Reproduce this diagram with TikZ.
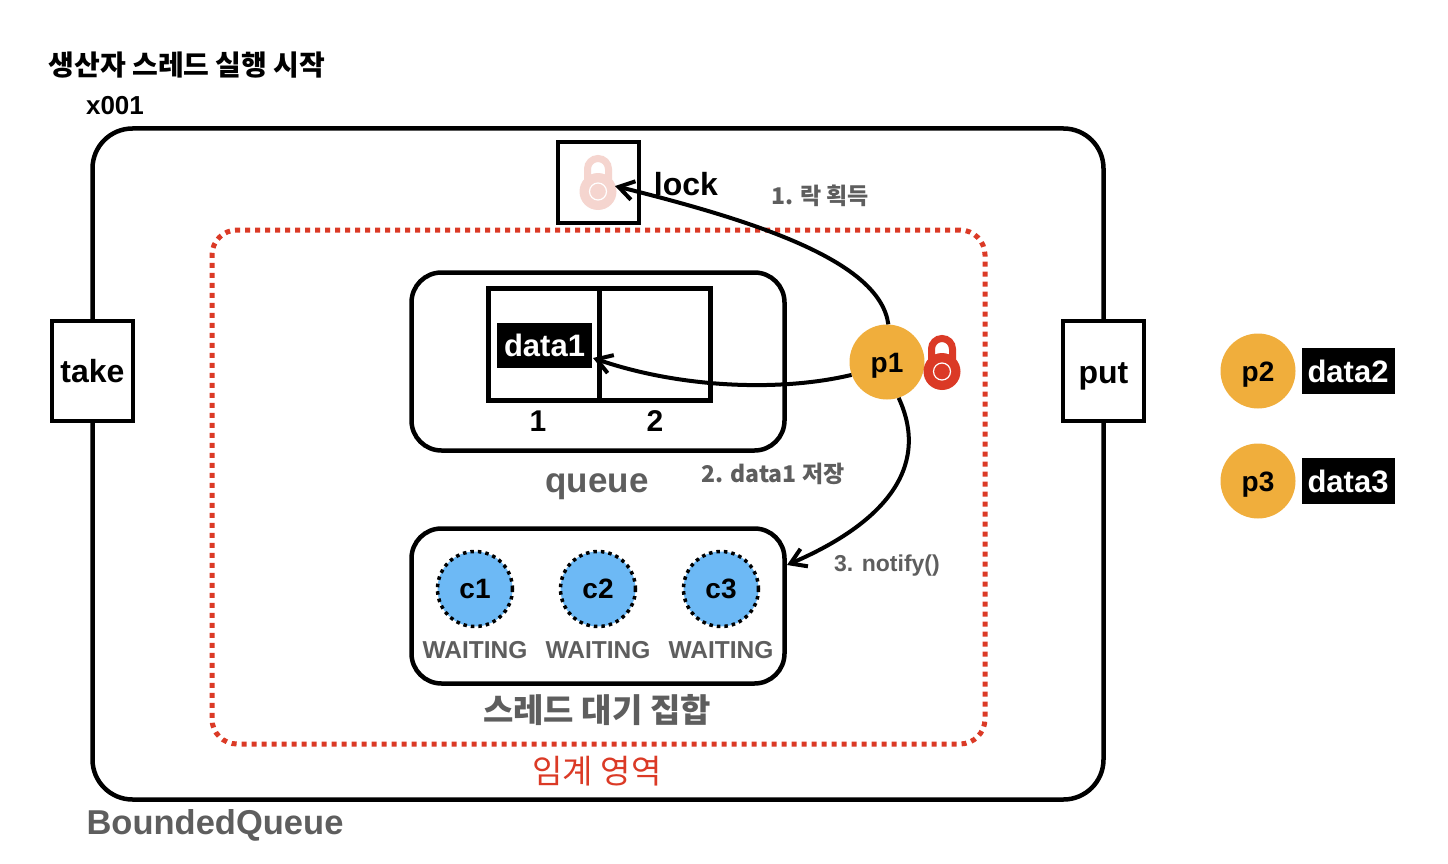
\documentclass[tikz,border=0pt]{standalone}
\usepackage{fontspec}
\setmainfont{Liberation Sans}
\newfontfamily\krfont{Noto Sans CJK KR}
\usetikzlibrary{arrows.meta}

\definecolor{redzone}{HTML}{DB3A26}
\definecolor{palered}{HTML}{F5D5CF}
\definecolor{grayfont}{HTML}{5E5E5E}
\definecolor{prodfill}{HTML}{F0AE3C}
\definecolor{consfill}{HTML}{6DB9F5}

\newcommand{\fsz}[1]{\fontsize{#1}{#1}\selectfont\bfseries}

\tikzset{
  box/.style={draw=black, line width=4.5pt, fill=white, inner sep=0pt},
  roundbox/.style={box, rounded corners=30pt},
  lbl/.style={inner sep=0pt, font=\fsz{30}},
  graylbl/.style={inner sep=0pt, text=grayfont},
  thread/.style={circle, fill=prodfill, minimum size=75pt, inner sep=0pt, font=\fsz{28}, text height=22pt, text depth=2pt},
  waiter/.style={circle, fill=consfill, draw=black, line width=3.5pt, dash pattern=on 3.5pt off 4pt, minimum size=75pt, inner sep=0pt, font=\fsz{28}},
  datablock/.style={fill=black, text=white, minimum width=93pt, minimum height=46pt, inner sep=0pt, font=\fsz{31}},
  flow/.style={-{Straight Barb[length=15pt,width=19pt,line width=4pt]}, line width=4pt},
  lockicon/.pic={
    \draw[line width=7pt, pic actions] (-10.5,-8) -- (-10.5,-22.5) arc (180:360:10.5) -- (10.5,-8);
    \fill[pic actions] (0,0) circle (18.5);
    \draw[white, line width=1.2pt] (0,0) circle (8.5);
  },
}

\begin{document}
\begin{tikzpicture}[x=1pt,y=-1pt]
  \useasboundingbox (0,0) rectangle (1448,864);

  \node[inner sep=0pt] (title) at (187,65) {\krfont\fsz{28}생산자 스레드 실행 시작};
  \node[lbl] (addr) at (115,106) {\fsz{26}x001};

  % outer object
  \node[roundbox, rounded corners=40pt, minimum width=1011pt, minimum height=671pt] (bounded) at (598,464) {};
  \node[graylbl] (boundedname) at (215,825) {\fsz{34.5}BoundedQueue};
  \node[box, minimum width=81pt, minimum height=100pt, font=\fsz{32}] (takebox) at (92.5,371) {take};
  \node[box, minimum width=81pt, minimum height=100pt, font=\fsz{32}, text height=24pt, text depth=0pt] (putbox) at (1103.5,371) {put};

  % critical section
  \node[draw=redzone, line width=5pt, dash pattern=on 5pt off 5pt, rounded corners=25pt, minimum width=773pt, minimum height=514pt, inner sep=0pt] (critical) at (598.5,487) {};
  \node[inner sep=0pt, text=redzone] (criticalname) at (597,771) {\krfont\fontsize{33}{33}\selectfont 임계 영역};

  % lock
  \node[box, minimum width=81pt, minimum height=81pt] (lockbox) at (598.5,182.5) {};
  \pic[palered] at (598,191.5) {lockicon};
  \coordinate (lockspot) at (615,186);
  \node[lbl] (lockname) at (686,184) {\fsz{32}lock};

  % queue
  \node[roundbox, minimum width=373pt, minimum height=178pt] (queuebox) at (598,361.5) {};
  \node[box, minimum width=111pt, minimum height=112pt] (slota) at (544,344.5) {};
  \node[box, minimum width=111pt, minimum height=112pt] (slotb) at (655,344.5) {};
  \node[fill=black, text=white, minimum width=95pt, minimum height=45pt, inner sep=0pt, font=\fsz{31}, text height=23pt, text depth=1pt] (dataa) at (544.5,345) {data1};
  \coordinate (dataspot) at (593,358);
  \node[lbl] (numa) at (538,421) {1};
  \node[lbl] (numb) at (655,421) {2};
  \node[graylbl] (queuename) at (597,487) {\fsz{35}queue};

  % wait set
  \node[roundbox, minimum width=373pt, minimum height=155pt] (waitbox) at (598,606) {};
  \foreach \name/\xpos in {c1/475,c2/598,c3/721}{
    \node[waiter] (\name) at (\xpos,589) {\raisebox{-1pt}{\name}};
    \node[graylbl] (wait\name) at (\xpos,650) {\fsz{24.5}WAITING};
  }
  \node[graylbl] (waitname) at (597,710) {\krfont\fsz{33}스레드 대기 집합};

  % threads
  \node[thread] (p1) at (887,362) {p1};
  \pic[redzone] at (942,371.5) {lockicon};
  \node[thread] (p2) at (1258,371) {p2};
  \node[datablock, text height=23pt, text depth=1pt] (data2) at (1348,371) {data2};
  \node[thread] (p3) at (1258,481) {p3};
  \node[datablock, text height=23pt, text depth=1pt] (data3) at (1348,481) {data3};

  % steps
  \coordinate (waitspot) at (787,565);
  \draw[flow] (p1.88) .. controls (880,262) and (760,222) .. (lockspot);
  \draw[flow] (p1.200) .. controls (780,392) and (680,388) .. (dataspot);
  \draw[flow] (p1.-72) .. controls (932,470) and (880,525) .. (waitspot);
  \node[graylbl] (stepa) at (820,196) {\krfont\fsz{23}1. 락 획득};
  \node[graylbl] (stepb) at (773,474) {\krfont\fsz{23}2. data1 저장};
  \node[graylbl] (stepc) at (887,566) {\fsz{23}3. notify()};
\end{tikzpicture}
\end{document}
